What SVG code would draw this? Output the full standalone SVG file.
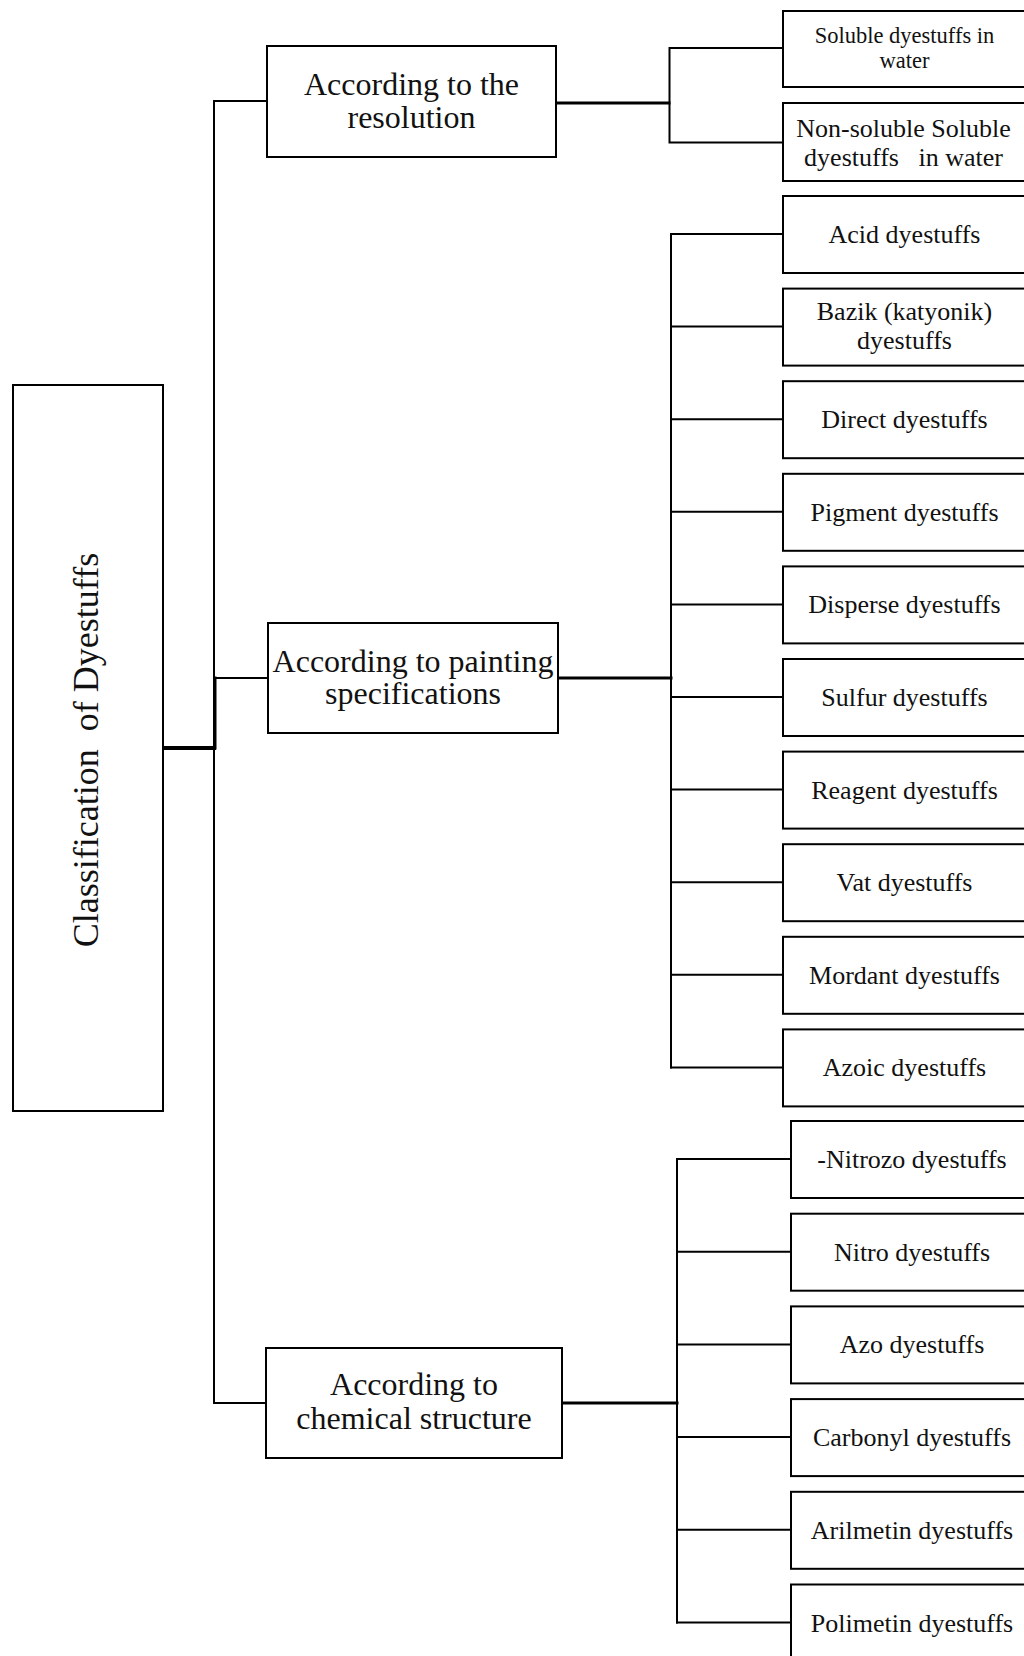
<svg xmlns="http://www.w3.org/2000/svg" width="1024" height="1656" viewBox="0 0 1024 1656">
<style>
.box{fill:#fff;stroke:#000;stroke-width:2}
.t{font-family:"Liberation Serif","Times New Roman",serif;fill:#111;text-anchor:middle}
.root{font-size:36px}
.mid{font-size:32px}
.leaf{font-size:26px}
.small{font-size:22.5px}
.c{fill:none;stroke:#000;stroke-width:2;stroke-linecap:square}
.ct{fill:none;stroke:#000;stroke-width:3;stroke-linecap:square}
.cx{fill:none;stroke:#000;stroke-width:4}
</style>
<rect width="1024" height="1656" fill="#fff"/>
<g id="connectors">
<path class="c" d="M214 101 V1403"/>
<path class="c" d="M214 101 H267 M214 678 H268 M214 1403 H266"/>
<path class="ct" d="M215 678 V748"/>
<path class="cx" d="M163 748 H216"/>
<path class="ct" d="M556 103 H669"/>
<path class="c" d="M669.5 48 V142.5 M669.5 48 H783 M669.5 142.5 H783"/>
<path class="ct" d="M558 678 H671"/>
<path class="c" d="M671 234 V1067.4"/>
<path class="c" d="M671 234 H783 M671 326.6 H783 M671 419.2 H783 M671 511.8 H783 M671 604.4 H783 M671 697 H783 M671 789.6 H783 M671 882.2 H783 M671 974.8 H783 M671 1067.4 H783"/>
<path class="ct" d="M562 1403 H677"/>
<path class="c" d="M677 1159 V1622.5"/>
<path class="c" d="M677 1159 H791 M677 1251.7 H791 M677 1344.4 H791 M677 1437.1 H791 M677 1529.8 H791 M677 1622.5 H791"/>
</g>
<g id="root">
<rect class="box" x="13" y="385" width="150" height="726"/>
<text class="t root" xml:space="preserve" transform="translate(98,750) rotate(-90)">Classification  of Dyestuffs</text>
</g>
<g id="resolution">
<rect class="box" x="267" y="46" width="289" height="111"/>
<text class="t mid" x="411.5" y="95">According to the</text>
<text class="t mid" x="411.5" y="128">resolution</text>
</g>
<g id="painting">
<rect class="box" x="268" y="623" width="290" height="110"/>
<text class="t mid" x="413" y="671.5">According to painting</text>
<text class="t mid" x="413" y="704">specifications</text>
</g>
<g id="chemical">
<rect class="box" x="266" y="1348" width="296" height="110"/>
<text class="t mid" x="414" y="1395">According to</text>
<text class="t mid" x="414" y="1429">chemical structure</text>
</g>
<g id="soluble">
<rect class="box" x="783" y="11" width="260" height="76"/>
<text class="t small" x="904.5" y="43">Soluble dyestuffs in</text>
<text class="t small" x="904.5" y="68">water</text>
</g>
<g id="nonsoluble">
<rect class="box" x="783" y="103" width="260" height="78"/>
<text class="t leaf" x="903.5" y="136.5">Non-soluble Soluble</text>
<text class="t leaf" x="903.5" y="166" xml:space="preserve">dyestuffs   in water</text>
</g>
<g id="acid">
<rect class="box" x="783" y="196" width="260" height="77"/>
<text class="t leaf" x="904.5" y="243">Acid dyestuffs</text>
</g>
<g id="bazik">
<rect class="box" x="783" y="288.6" width="260" height="77"/>
<text class="t leaf" x="904.5" y="320">Bazik (katyonik)</text>
<text class="t leaf" x="904.5" y="348.5">dyestuffs</text>
</g>
<g id="direct">
<rect class="box" x="783" y="381.2" width="260" height="77"/>
<text class="t leaf" x="904.5" y="428.2">Direct dyestuffs</text>
</g>
<g id="pigment">
<rect class="box" x="783" y="473.8" width="260" height="77"/>
<text class="t leaf" x="904.5" y="520.8">Pigment dyestuffs</text>
</g>
<g id="disperse">
<rect class="box" x="783" y="566.4" width="260" height="77"/>
<text class="t leaf" x="904.5" y="613.4">Disperse dyestuffs</text>
</g>
<g id="sulfur">
<rect class="box" x="783" y="659" width="260" height="77"/>
<text class="t leaf" x="904.5" y="706">Sulfur dyestuffs</text>
</g>
<g id="reagent">
<rect class="box" x="783" y="751.6" width="260" height="77"/>
<text class="t leaf" x="904.5" y="798.6">Reagent dyestuffs</text>
</g>
<g id="vat">
<rect class="box" x="783" y="844.2" width="260" height="77"/>
<text class="t leaf" x="904.5" y="891.2">Vat dyestuffs</text>
</g>
<g id="mordant">
<rect class="box" x="783" y="936.8" width="260" height="77"/>
<text class="t leaf" x="904.5" y="983.8">Mordant dyestuffs</text>
</g>
<g id="azoic">
<rect class="box" x="783" y="1029.4" width="260" height="77"/>
<text class="t leaf" x="904.5" y="1076.4">Azoic dyestuffs</text>
</g>
<g id="nitrozo">
<rect class="box" x="791" y="1121" width="260" height="77"/>
<text class="t leaf" x="912" y="1168">-Nitrozo dyestuffs</text>
</g>
<g id="nitro">
<rect class="box" x="791" y="1213.7" width="260" height="77"/>
<text class="t leaf" x="912" y="1260.7">Nitro dyestuffs</text>
</g>
<g id="azo">
<rect class="box" x="791" y="1306.4" width="260" height="77"/>
<text class="t leaf" x="912" y="1353.4">Azo dyestuffs</text>
</g>
<g id="carbonyl">
<rect class="box" x="791" y="1399.1" width="260" height="77"/>
<text class="t leaf" x="912" y="1446.1">Carbonyl dyestuffs</text>
</g>
<g id="arilmetin">
<rect class="box" x="791" y="1491.8" width="260" height="77"/>
<text class="t leaf" x="912" y="1538.8">Arilmetin dyestuffs</text>
</g>
<g id="polimetin">
<rect class="box" x="791" y="1584.5" width="260" height="77"/>
<text class="t leaf" x="912" y="1631.5">Polimetin dyestuffs</text>
</g>
</svg>
